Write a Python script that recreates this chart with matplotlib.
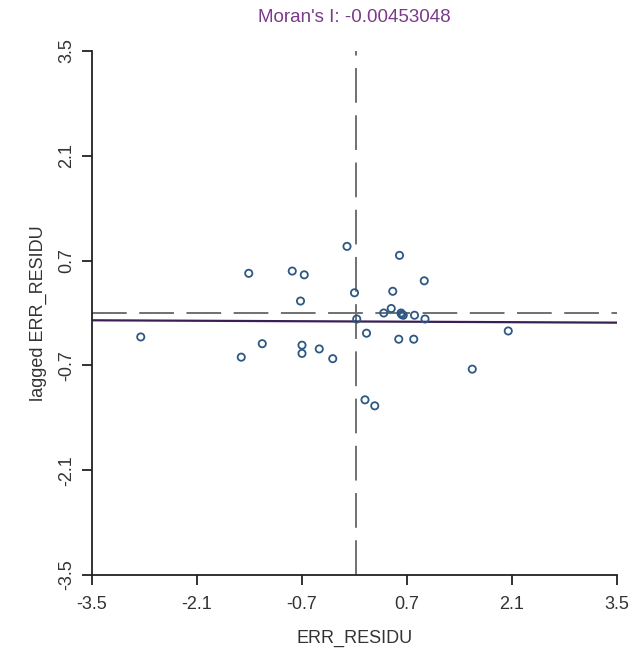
import numpy as np
import matplotlib
matplotlib.use("Agg")
import matplotlib.pyplot as plt

plt.rcParams["font.family"] = ["Liberation Sans", "DejaVu Sans"]
plt.rcParams["lines.scale_dashes"] = False

# Residuals and their spatially lagged values
err_residu = [-2.85, -1.41, -1.51, -1.23, -0.83, -0.67, -0.72, -0.70, -0.70,
              -0.47, -0.29, -0.10, 0.00, 0.03, 0.16, 0.14, 0.27, 0.39, 0.49,
              0.51, 0.60, 0.62, 0.65, 0.63, 0.80, 0.94, 0.93, 0.59, 0.79,
              2.05, 1.57]
lagged_err_residu = [-0.32, 0.53, -0.59, -0.41, 0.56, 0.51, 0.16, -0.43, -0.54,
                     -0.48, -0.61, 0.89, 0.27, -0.08, -0.27, -1.16, -1.24, 0.00,
                     0.06, 0.29, 0.77, 0.00, -0.03, -0.02, -0.03, -0.08, 0.43,
                     -0.35, -0.35, -0.24, -0.75]
moran_i = -0.00453048
x_ref = 0.02
y_ref = 0.0
ticks = [-3.5, -2.1, -0.7, 0.7, 2.1, 3.5]

x = np.array(err_residu)
y = np.array(lagged_err_residu)

fig = plt.figure(figsize=(6.33, 6.57), dpi=100)
ax = fig.add_axes([92 / 633, 1 - 575 / 657, 525 / 633, 524 / 657])
ax.set_xlim(-3.5, 3.5)
ax.set_ylim(-3.5, 3.5)

# Reference lines
ax.axvline(x_ref, color="#707070", lw=1.4, dashes=(25, 9), zorder=1)
ax.axhline(y_ref, color="#707070", lw=1.4, dashes=(25, 9), zorder=1)

# Regression line with slope equal to Moran's I, through the means
xs = np.array([-3.5, 3.5])
ax.plot(xs, y.mean() + moran_i * (xs - x.mean()), color="#3a1f55", lw=1.6,
        zorder=2, solid_capstyle="butt")

ax.scatter(x, y, s=27, facecolors="none", edgecolors="#2d5883",
           linewidths=1.3, zorder=3)

for side in ("top", "right"):
    ax.spines[side].set_visible(False)
for side in ("left", "bottom"):
    ax.spines[side].set_color("#222222")
    ax.spines[side].set_linewidth(1.3)

ax.set_xticks(ticks)
ax.set_yticks(ticks)
ax.set_xticklabels([f"{t:g}" for t in ticks])
ax.set_yticklabels([f"{t:g}" for t in ticks], rotation=90, va="center")
ax.tick_params(axis="both", direction="out", length=7, width=1.3,
               color="#222222", labelsize=13, labelcolor="#333333")
ax.tick_params(axis="x", pad=8)
ax.tick_params(axis="y", pad=5)

ax.set_xlabel("ERR_RESIDU", fontsize=13, color="#333333", labelpad=12)
ax.set_ylabel("lagged ERR_RESIDU", fontsize=13, color="#333333", labelpad=8)

fig.text(354.5 / 633, 1 - 18 / 657, f"Moran's I: {moran_i:.8f}",
         ha="center", va="center", fontsize=13.5, color="#7b3a8c")

fig.savefig("out.png", dpi=100)
